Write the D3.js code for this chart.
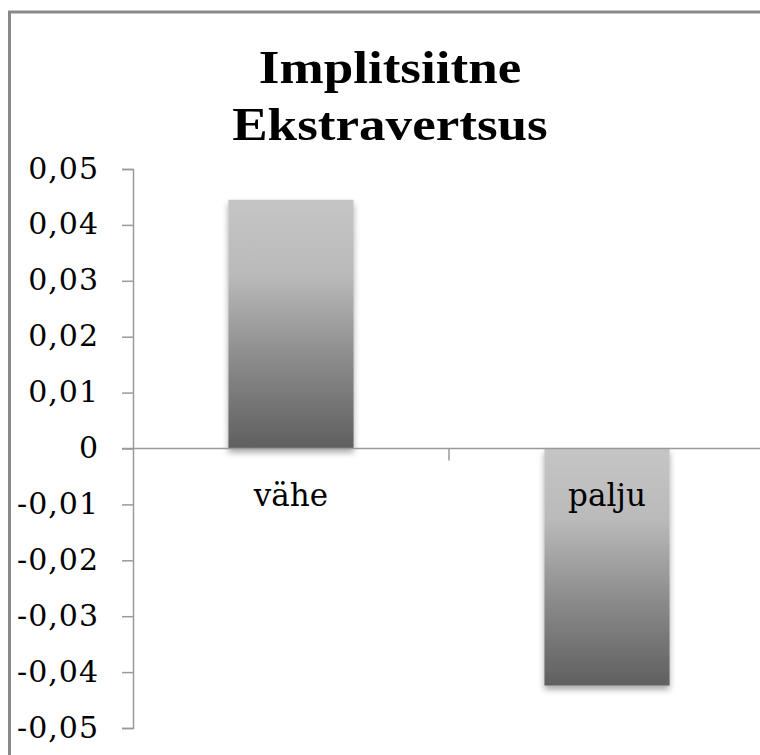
<!DOCTYPE html>
<html>
<head>
<meta charset="utf-8">
<script src="https://cdn.jsdelivr.net/npm/d3@7"></script>
<style>
  body { margin: 0; background: #fff; }
  svg { display: block; }
</style>
</head>
<body>
<svg></svg>
<script>
// data
var categories = ["vähe", "palju"];
var values = [0.0445, -0.0424];
var yTicks = [0.05, 0.04, 0.03, 0.02, 0.01, 0, -0.01, -0.02, -0.03, -0.04, -0.05];
var yTickLabels = ["0,05", "0,04", "0,03", "0,02", "0,01", "0", "-0,01", "-0,02", "-0,03", "-0,04", "-0,05"];
var titleLines = ["Implitsiitne", "Ekstravertsus"];

var svgWidth = 760, svgHeight = 755;
var plotLeft = 133, plotRight = 765, plotTop = 169, plotBottom = 728;

var svg = d3.select("svg")
  .attr("width", svgWidth)
  .attr("height", svgHeight);

var defs = svg.append("defs");
var grad = defs.append("linearGradient")
  .attr("id", "barGrad")
  .attr("x1", 0).attr("y1", 0).attr("x2", 0).attr("y2", 1);
grad.append("stop").attr("offset", "0").attr("stop-color", "#c5c5c5");
grad.append("stop").attr("offset", "0.3").attr("stop-color", "#bababa");
grad.append("stop").attr("offset", "0.65").attr("stop-color", "#8a8a8a");
grad.append("stop").attr("offset", "1").attr("stop-color", "#5f5f5f");

var shadow = defs.append("filter").attr("id", "shadow")
  .attr("x", "-20%").attr("y", "-20%").attr("width", "140%").attr("height", "140%");
shadow.append("feDropShadow")
  .attr("dx", 0).attr("dy", 4).attr("stdDeviation", 3)
  .attr("flood-color", "#000").attr("flood-opacity", 0.35);

// outer chart border
svg.append("rect")
  .attr("x", 9.5).attr("y", 12)
  .attr("width", 800).attr("height", 800)
  .attr("fill", "none")
  .attr("stroke", "#898989")
  .attr("stroke-width", 3);

var xScale = d3.scaleBand()
  .domain(categories)
  .range([plotLeft, plotRight]);

var yScale = d3.scaleLinear()
  .domain([-0.05, 0.05])
  .range([plotBottom, plotTop]);

var barWidth = xScale.step() * 0.396;

// bars
svg.selectAll("rect.bar")
  .data(values)
  .enter()
  .append("rect")
  .attr("class", "bar")
  .attr("x", function(d, i) { return xScale(categories[i]) + xScale.bandwidth() / 2 - barWidth / 2; })
  .attr("y", function(d) { return yScale(Math.max(d, 0)); })
  .attr("width", barWidth)
  .attr("height", function(d) { return Math.abs(yScale(d) - yScale(0)); })
  .attr("fill", "url(#barGrad)")
  .attr("filter", "url(#shadow)");

// y axis
var yAxis = d3.axisLeft(yScale)
  .tickValues(yTicks)
  .tickSize(11)
  .tickPadding(23)
  .tickFormat(function(d, i) { return yTickLabels[i]; });

var yg = svg.append("g")
  .attr("transform", "translate(" + plotLeft + ",0)")
  .call(yAxis);
yg.select(".domain").attr("stroke", "#9a9a9a").attr("stroke-width", 1.5);
yg.selectAll(".tick line").attr("stroke", "#9a9a9a").attr("stroke-width", 1.5);
yg.selectAll(".tick text")
  .attr("fill", "#000")
  .attr("font-family", "'DejaVu Serif', serif")
  .attr("font-size", 30)
  .attr("letter-spacing", 1)
  .attr("dy", "0.3em");

// x axis at zero
var xAxis = d3.axisBottom(xScale)
  .tickSize(0)
  .tickFormat("");
var xg = svg.append("g")
  .attr("transform", "translate(0," + yScale(0) + ")")
  .call(xAxis);
xg.select(".domain")
  .attr("d", "M" + (plotLeft - 11) + ",0H" + plotRight)
  .attr("stroke", "#9a9a9a").attr("stroke-width", 1.5);
xg.selectAll(".tick").remove();

// category separator ticks
xg.selectAll("line.sep")
  .data(categories.slice(1))
  .enter()
  .append("line")
  .attr("class", "sep")
  .attr("x1", function(d) { return xScale(d); })
  .attr("x2", function(d) { return xScale(d); })
  .attr("y1", 0).attr("y2", 12)
  .attr("stroke", "#9a9a9a").attr("stroke-width", 1.5);

// category labels
svg.selectAll("text.cat")
  .data(categories)
  .enter()
  .append("text")
  .attr("class", "cat")
  .attr("x", function(d) { return xScale(d) + xScale.bandwidth() / 2; })
  .attr("y", yScale(0) + 57)
  .attr("text-anchor", "middle")
  .attr("font-family", "'DejaVu Serif', serif")
  .attr("font-size", 31)
  .attr("fill", "#000")
  .text(function(d) { return d; });

// title
svg.selectAll("text.title")
  .data(titleLines)
  .enter()
  .append("text")
  .attr("class", "title")
  .attr("transform", function(d, i) { return "translate(390," + (83 + i * 57) + ") scale(1.13,1)"; })
  .attr("text-anchor", "middle")
  .attr("font-family", "'Liberation Serif', 'Times New Roman', serif")
  .attr("font-weight", "bold")
  .attr("font-size", 47)
  .attr("fill", "#000")
  .text(function(d) { return d; });
</script>
</body>
</html>
